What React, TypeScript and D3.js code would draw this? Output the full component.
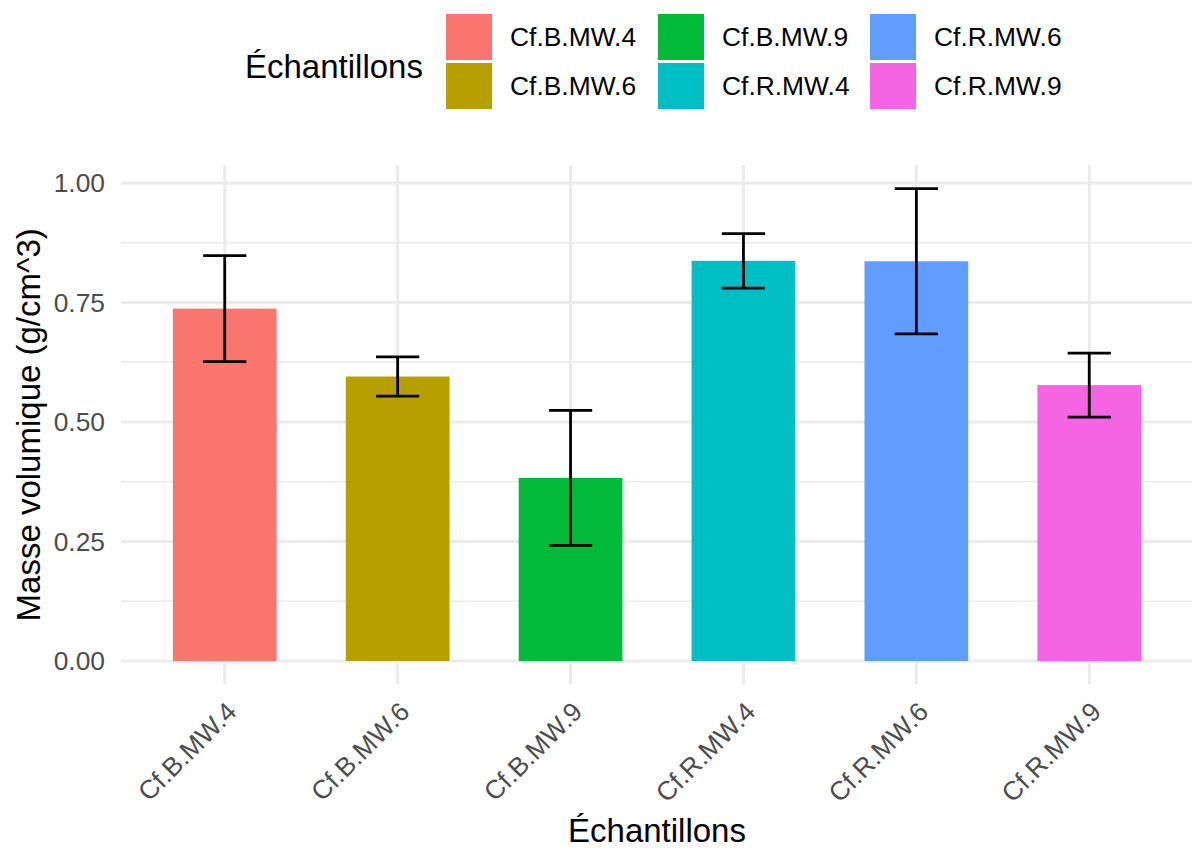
import React from "react";
import * as d3 from "d3";

// Bulk density per sample: mean and standard deviation (g/cm^3)
const categories = ["Cf.B.MW.4", "Cf.B.MW.6", "Cf.B.MW.9", "Cf.R.MW.4", "Cf.R.MW.6", "Cf.R.MW.9"];
const means = [0.737, 0.595, 0.383, 0.837, 0.836, 0.577];
const sds = [0.111, 0.041, 0.141, 0.057, 0.152, 0.067];
const colors = ["#F8766D", "#B79F00", "#00BA38", "#00BFC4", "#619CFF", "#F564E3"];
const yTicks = [0, 0.25, 0.5, 0.75, 1.0];
const yMinorTicks = [0.125, 0.375, 0.625, 0.875];

const W = 1192;
const H = 848;
const FONT = "'Liberation Sans', Arial, Helvetica, sans-serif";
const panel = { left: 121, right: 1193, top: 165, bottom: 684.6 };

export default function App() {
  const ymax = d3.max(means.map((m, i) => m + sds[i])) as number;
  const y = d3
    .scaleLinear()
    .domain([-0.05 * ymax, ymax * 1.05])
    .range([panel.bottom, panel.top]);
  const x = d3
    .scaleBand<string>()
    .domain(categories)
    .range([panel.left, panel.right])
    .paddingInner(0.4)
    .paddingOuter(0.3);
  const step = x.step();
  const capW = step * 0.25;
  const fmt = d3.format(".2f");

  const legendCols = [445, 657, 869];
  const legendRows = [13, 62];

  return (
    <svg
      width={W}
      height={H}
      style={{ position: "absolute", left: 0, top: 0, background: "#fff" }}
      fontFamily={FONT}
    >
      {/* grid */}
      <g>
        {yMinorTicks.map((t) => (
          <line key={"mn" + t} x1={panel.left} x2={W} y1={y(t)} y2={y(t)} stroke="#ebebeb" strokeWidth={1.6} />
        ))}
        {yTicks.map((t) => (
          <line key={"mj" + t} x1={panel.left} x2={W} y1={y(t)} y2={y(t)} stroke="#ebebeb" strokeWidth={3} />
        ))}
        {categories.map((c) => {
          const cx = (x(c) as number) + x.bandwidth() / 2;
          return <line key={"v" + c} x1={cx} x2={cx} y1={panel.top} y2={panel.bottom} stroke="#ebebeb" strokeWidth={3} />;
        })}
      </g>

      {/* bars */}
      <g>
        {categories.map((c, i) => (
          <rect
            key={"b" + c}
            x={x(c) as number}
            width={x.bandwidth()}
            y={y(means[i])}
            height={y(0) - y(means[i])}
            fill={colors[i]}
          />
        ))}
      </g>

      {/* error bars */}
      <g stroke="#000" strokeWidth={2.8} fill="none">
        {categories.map((c, i) => {
          const cx = (x(c) as number) + x.bandwidth() / 2;
          const lo = y(means[i] - sds[i]);
          const hi = y(means[i] + sds[i]);
          return (
            <g key={"e" + c}>
              <line x1={cx} x2={cx} y1={hi} y2={lo} />
              <line x1={cx - capW / 2} x2={cx + capW / 2} y1={hi} y2={hi} />
              <line x1={cx - capW / 2} x2={cx + capW / 2} y1={lo} y2={lo} />
            </g>
          );
        })}
      </g>

      {/* y axis labels */}
      <g fill="#4d4d4d" fontSize={26.4}>
        {yTicks.map((t) => (
          <text key={"yl" + t} x={105} y={y(t)} dy="0.35em" textAnchor="end">
            {fmt(t)}
          </text>
        ))}
      </g>

      {/* x axis labels */}
      <g fill="#4d4d4d" fontSize={26.4}>
        {categories.map((c) => {
          const cx = (x(c) as number) + x.bandwidth() / 2;
          const ay = 700;
          return (
            <text
              key={"xl" + c}
              x={cx}
              y={ay}
              dy="0.72em"
              textAnchor="end"
              transform={`rotate(-45, ${cx}, ${ay})`}
            >
              {c}
            </text>
          );
        })}
      </g>

      {/* axis titles */}
      <text x={(panel.left + panel.right) / 2} y={842} textAnchor="middle" fontSize={33} fill="#000">
        Échantillons
      </text>
      <text
        transform={`translate(39.5, ${(panel.top + panel.bottom) / 2}) rotate(-90)`}
        textAnchor="middle"
        fontSize={33}
        fill="#000"
      >
        Masse volumique (g/cm^3)
      </text>

      {/* legend */}
      <text x={245} y={78} fontSize={33} fill="#000">
        Échantillons
      </text>
      {categories.map((c, i) => {
        const col = Math.floor(i / 2);
        const row = i % 2;
        const kx = legendCols[col];
        const ky = legendRows[row];
        return (
          <g key={"lg" + c}>
            <rect x={kx + 1} y={ky + 1} width={46} height={46} fill={colors[i]} />
            <text x={kx + 65} y={ky + 24} dy="0.35em" fontSize={26.4} fill="#000">
              {c}
            </text>
          </g>
        );
      })}
    </svg>
  );
}
